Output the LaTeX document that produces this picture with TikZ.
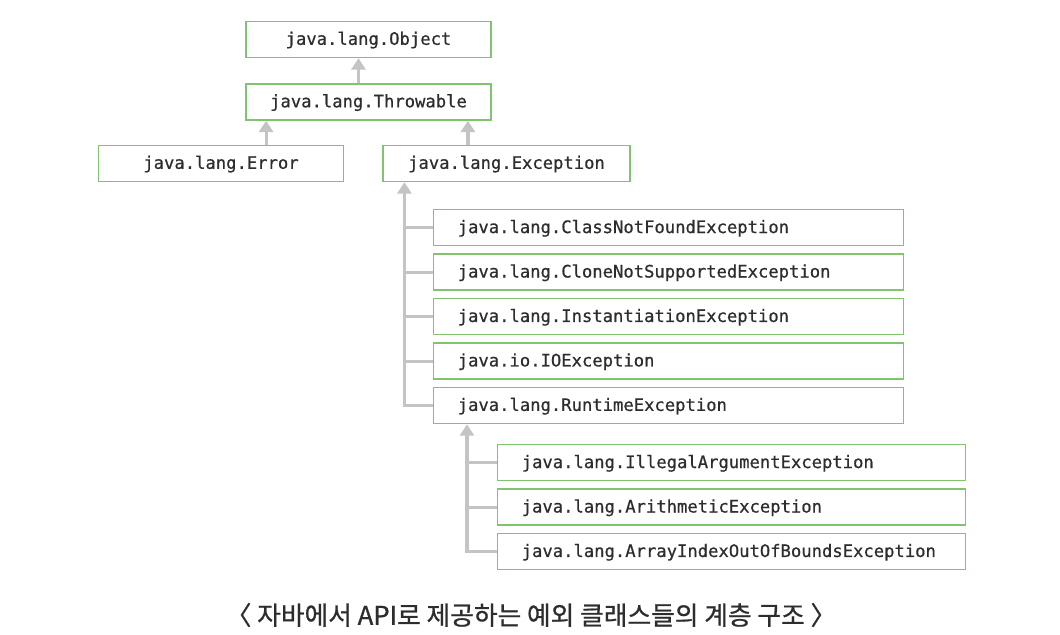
\documentclass[tikz,border=0pt]{standalone}
\usepackage{fontspec}
\setmonofont[FakeBold=0.6]{DejaVu Sans Mono}
\newfontfamily\krfont[FakeBold=0.8]{Noto Sans CJK KR}
\usetikzlibrary{positioning,arrows.meta}
\definecolor{boxgreen}{RGB}{128,196,110}
\definecolor{arrowgray}{RGB}{196,196,196}
\definecolor{textgray}{RGB}{45,45,45}

\begin{document}
\begin{tikzpicture}[x=0.75pt, y=-0.75pt,
  cls/.style = {rectangle, draw = boxgreen, line width = 1.1pt, fill = white, minimum height = 27pt, font = \ttfamily\fontsize{12.9}{14}\selectfont, text = textgray, text height = 2.1ex, text depth = .25ex},
  topcls/.style = {cls, minimum width = 184pt},
  subcls/.style = {cls, anchor = north west, align = left, inner xsep = 18pt, text width = 316.5pt},
  subsubcls/.style = {cls, anchor = north west, align = left, inner xsep = 18pt, text width = 315pt},
  inherits/.style = {draw = arrowgray, line width = 2.4pt, -{Triangle[width = 10.5pt, length = 8.5pt]}},
  branch/.style = {draw = arrowgray, line width = 2.4pt}]

\useasboundingbox (0,0) rectangle (1060,635);

\node[topcls] (object) at (368.5,39.5) {java.lang.Object};
\node[topcls] (throwable) at (368.5,102) {java.lang.Throwable};
\node[topcls] (error) at (221,163.5) {java.lang.Error};
\node[topcls, minimum width = 185pt] (exception) at (506.5,163.5) {java.lang.Exception};

\node[subcls] (classnotfound) at (433,209) {java.lang.ClassNotFoundException};
\node[subcls, below = 5.25pt of classnotfound] (clonenotsupported) {java.lang.CloneNotSupportedException};
\node[subcls, below = 5.25pt of clonenotsupported] (instantiation) {java.lang.InstantiationException};
\node[subcls, below = 5.25pt of instantiation] (ioexception) {java.io.IOException};
\node[subcls, below = 5.25pt of ioexception] (runtime) {java.lang.RuntimeException};

\node[subsubcls] (illegalargument) at (497,444) {java.lang.IllegalArgumentException};
\node[subsubcls, below = 5.25pt of illegalargument] (arithmetic) {java.lang.ArithmeticException};
\node[subsubcls, below = 5.25pt of arithmetic] (arrayindex) {java.lang.ArrayIndexOutOfBoundsException};

\node[font = \krfont\fontsize{19.3}{22}\selectfont, text = textgray] (caption) at (531,615) {〈 자바에서 API로 제공하는 예외 클래스들의 계층 구조 〉};

\draw[inherits] ([xshift = -7.5pt]throwable.north) -- ([xshift = -7.5pt]object.south);
\draw[inherits] ([xshift = 15.75pt]throwable.south west |- error.north) -- ([xshift = 15.75pt]throwable.south west);
\draw[inherits] ([xshift = -18pt]throwable.south east |- exception.north) -- ([xshift = -18pt]throwable.south east);

\coordinate (exctrunk) at ([xshift = 16.5pt]exception.south west);
\draw[inherits] (exctrunk |- runtime.west) -- (exctrunk);
\draw[branch] (exctrunk |- classnotfound.west) -- (classnotfound.west);
\draw[branch] (exctrunk |- clonenotsupported.west) -- (clonenotsupported.west);
\draw[branch] (exctrunk |- instantiation.west) -- (instantiation.west);
\draw[branch] (exctrunk |- ioexception.west) -- (ioexception.west);
\draw[branch] ([xshift = -1.2pt]exctrunk |- runtime.west) -- (runtime.west);

\coordinate (rtetrunk) at ([xshift = 25.5pt]runtime.south west);
\draw[inherits] (rtetrunk |- arrayindex.west) -- (rtetrunk);
\draw[branch] (rtetrunk |- illegalargument.west) -- (illegalargument.west);
\draw[branch] (rtetrunk |- arithmetic.west) -- (arithmetic.west);
\draw[branch] ([xshift = -1.2pt]rtetrunk |- arrayindex.west) -- (arrayindex.west);
\end{tikzpicture}
\end{document}
